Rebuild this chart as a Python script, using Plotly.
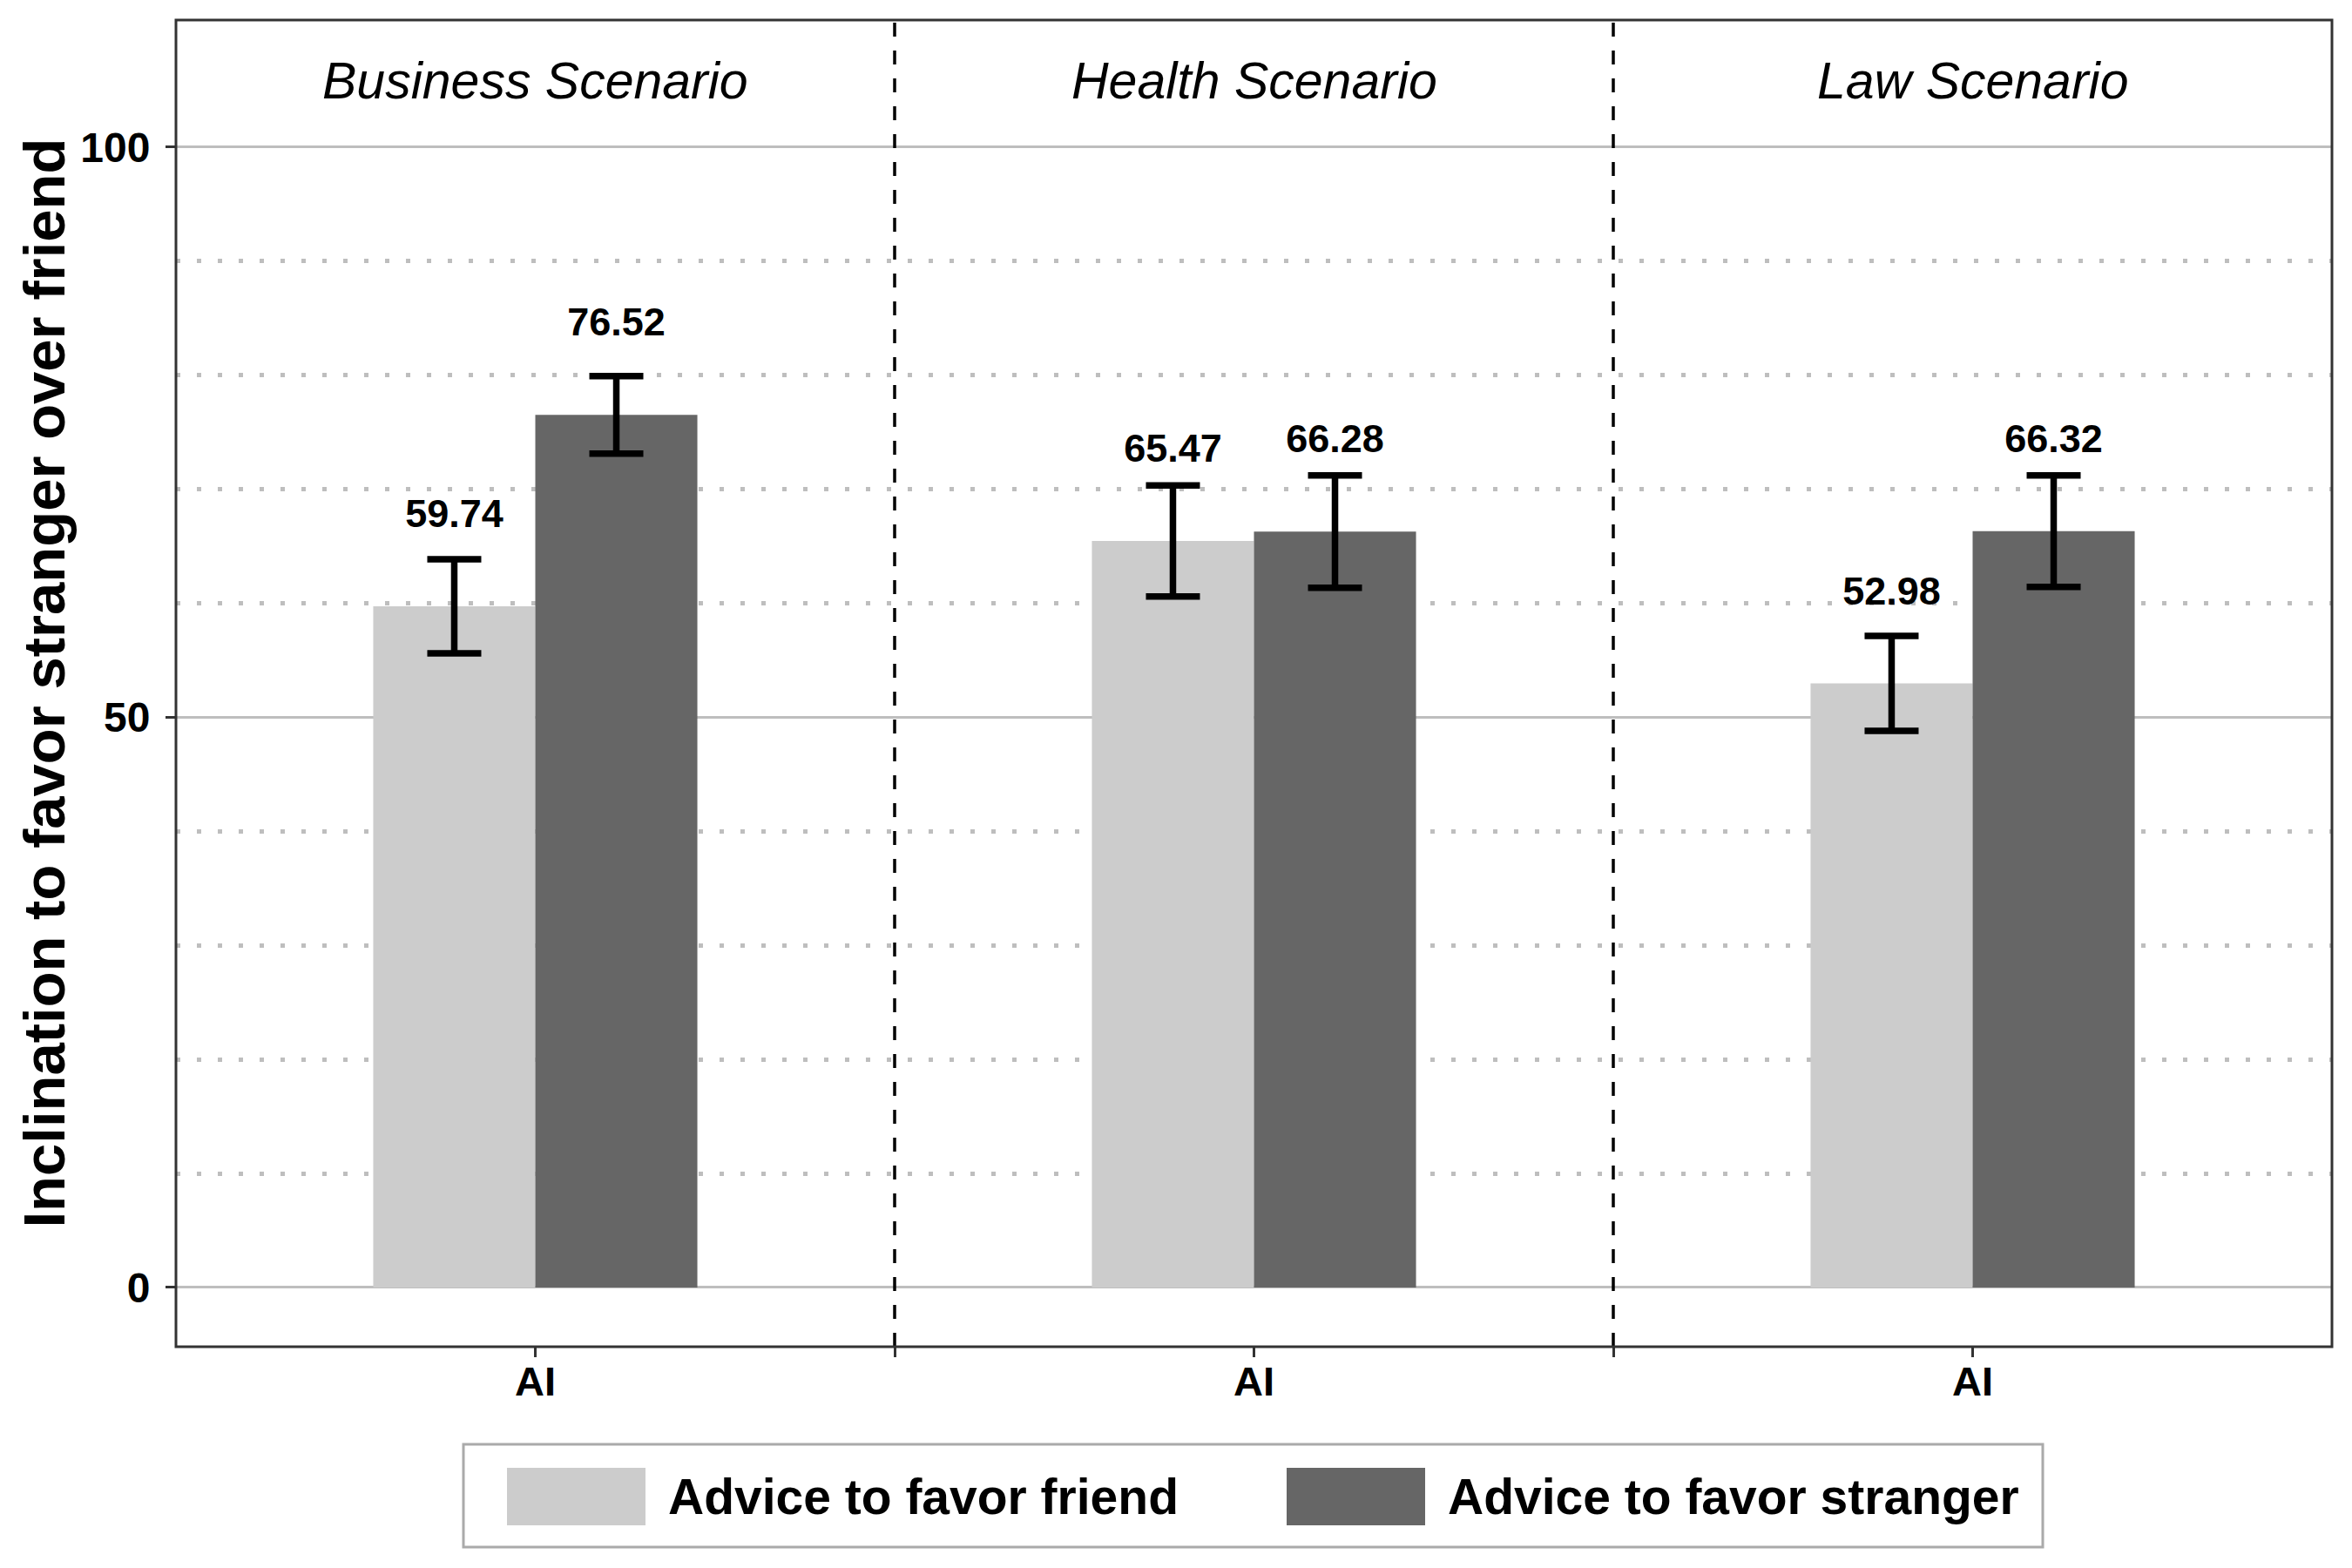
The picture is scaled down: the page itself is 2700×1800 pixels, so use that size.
import plotly.graph_objects as go

# ---- data ----
scenarios = ["Business Scenario", "Health Scenario", "Law Scenario"]
x_tick_label = "AI"
series_names = ["Advice to favor friend", "Advice to favor stranger"]
friend_mean = [59.74, 65.47, 52.98]
friend_se = [4.13, 4.87, 4.16]
stranger_mean = [76.52, 66.28, 66.32]
stranger_se = [3.40, 4.93, 4.89]
y_ticks = [0, 50, 100]
y_minor = [10, 20, 30, 40, 60, 70, 80, 90]
y_title = "Inclination to favor stranger over friend"

# ---- styles ----
OFF = 8  # default page body margin
W, H = 2700 - OFF, 1800 - OFF
# plot area in page pixel coordinates
L, R, T, B = 202, 2677, 23, 1546
FONT = "Liberation Sans"
COLORS = ["#cccccc", "#666666"]
BARGAP = 0.549
BAR_W = (1 - BARGAP) / 2
LABEL_OFFSET = 7.8
Y_RANGE = [-5.2, 111.15]


def px_x(p):
    return (p - L) / (R - L)


def px_y(p):
    return (B - p) / (B - T)


xs = list(range(len(scenarios)))
means = [friend_mean, stranger_mean]
ses = [friend_se, stranger_se]

fig = go.Figure()
for k in range(2):
    fig.add_trace(go.Bar(
        x=xs, y=means[k], name=series_names[k],
        marker=dict(color=COLORS[k], line=dict(width=0)),
        error_y=dict(type="data", array=ses[k], visible=True,
                     color="black", thickness=7.5, width=31),
        showlegend=False,
    ))

# value labels
for k in range(2):
    off = (-BAR_W / 2) if k == 0 else (BAR_W / 2)
    fig.add_trace(go.Scatter(
        x=[x + off for x in xs],
        y=[m + LABEL_OFFSET for m in means[k]],
        mode="text",
        text=[f"{m:.2f}" for m in means[k]],
        textposition="middle center",
        textfont=dict(family=FONT, size=45, color="black", weight="bold"),
        showlegend=False, hoverinfo="skip",
    ))

shapes = []
# facet separators
for i in range(len(scenarios) - 1):
    shapes.append(dict(type="line", xref="x", yref="paper",
                       x0=i + 0.5, x1=i + 0.5, y0=0, y1=1,
                       line=dict(color="black", width=3.5, dash="16px,16px")))
# panel border
shapes.append(dict(type="rect", xref="paper", yref="paper", x0=0, x1=1, y0=0, y1=1,
                   line=dict(color="#333333", width=3), fillcolor="rgba(0,0,0,0)"))

annotations = []
for i, s in enumerate(scenarios):
    annotations.append(dict(x=i, y=105.8, xref="x", yref="y", text=s, showarrow=False,
                            xanchor="center", yanchor="middle",
                            font=dict(family=FONT, size=59, color="black", style="italic")))

annotations.append(dict(x=px_x(50), y=0.5, xref="paper", yref="paper", text=y_title,
                        showarrow=False, textangle=-90, xanchor="center", yanchor="middle",
                        font=dict(family=FONT, size=67, color="black", weight="bold")))

# manual legend
shapes.append(dict(type="rect", xref="paper", yref="paper",
                   x0=px_x(532), x1=px_x(2345), y0=px_y(1776), y1=px_y(1658),
                   line=dict(color="#aaaaaa", width=3), fillcolor="white"))
sw_x = [(582, 741), (1477, 1636)]
for k in range(2):
    shapes.append(dict(type="rect", xref="paper", yref="paper",
                       x0=px_x(sw_x[k][0]), x1=px_x(sw_x[k][1]),
                       y0=px_y(1751), y1=px_y(1685),
                       line=dict(width=0), fillcolor=COLORS[k]))
    annotations.append(dict(x=px_x(sw_x[k][1] + 24), y=px_y(1718), xref="paper", yref="paper",
                            text=series_names[k], showarrow=False,
                            xanchor="left", yanchor="middle",
                            font=dict(family=FONT, size=57, color="black", weight="bold")))

fig.update_layout(
    width=W, height=H,
    margin=dict(l=L - OFF, r=W - (R - OFF), t=T - OFF, b=H - (B - OFF), pad=0),
    paper_bgcolor="white", plot_bgcolor="white",
    barmode="group", bargap=BARGAP, bargroupgap=0,
    shapes=shapes, annotations=annotations,
    showlegend=False,
    font=dict(family=FONT, color="black"),
)
fig.update_xaxes(
    range=[-0.5, len(scenarios) - 0.5],
    tickvals=[0, 0.5, 1, 1.5, 2],
    ticktext=[x_tick_label, "", x_tick_label, "", x_tick_label],
    ticks="outside", ticklen=11, tickwidth=3, tickcolor="#333333",
    tickfont=dict(family=FONT, size=47, color="black", weight="bold"),
    showgrid=False, zeroline=False, showline=False,
    ticklabelstandoff=-12,
)
fig.update_yaxes(
    range=Y_RANGE,
    tickvals=y_ticks,
    ticks="outside", ticklen=11, tickwidth=3, tickcolor="#333333",
    tickfont=dict(family=FONT, size=48, color="black", weight="bold"),
    showgrid=True, gridcolor="#bebebe", gridwidth=3,
    zeroline=False, showline=False,
    minor=dict(tickmode="array", tickvals=y_minor, showgrid=True, gridcolor="#bebebe",
               gridwidth=5, griddash="5px,19px", ticks=""),
    ticklabelstandoff=8,
)

fig.write_html("out.html")
